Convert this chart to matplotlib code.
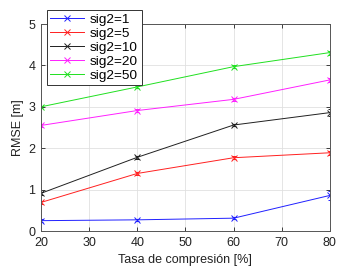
import matplotlib
matplotlib.use("Agg")
import matplotlib.pyplot as plt
from matplotlib.lines import Line2D

x = [20, 40, 60, 80]
series_names = ["sig2=1", "sig2=5", "sig2=10", "sig2=20", "sig2=50"]
sig1 = [0.25, 0.27, 0.31, 0.86]
sig5 = [0.69, 1.39, 1.77, 1.89]
sig10 = [0.91, 1.78, 2.56, 2.86]
sig20 = [2.55, 2.91, 3.18, 3.65]
sig50 = [3.00, 3.48, 3.97, 4.31]
err1 = [0.03, 0.03, 0.03, 0.1]
err5 = [0.03, 0.03, 0.03, 0.05]
err10 = [0.03, 0.03, 0.03, 0.08]
err20 = [0.03, 0.03, 0.03, 0.05]
err50 = [0.03, 0.03, 0.03, 0.05]
colors = ["#2020ff", "#ff2020", "#202020", "#ff20ff", "#20e020"]

plt.rcParams['font.family'] = ['Liberation Sans', 'DejaVu Sans']
fig = plt.figure(figsize=(3.59, 2.76), dpi=100)
ax = fig.add_axes([0.114, 0.163, 0.805, 0.750])

handles = []
for vals, errs, c, name in zip([sig1, sig5, sig10, sig20, sig50],
                               [err1, err5, err10, err20, err50],
                               colors, series_names):
    ax.errorbar(x, vals, yerr=errs, color=c, lw=0.7, marker='x', ms=4,
                mew=0.7, capsize=1.5, elinewidth=0.5)
    handles.append(Line2D([], [], color=c, lw=0.7, marker='x', ms=4,
                          mew=0.7, markevery=[1], label=name))

ax.set_xlim(20, 80)
ax.set_ylim(0, 5)
ax.set_xticks([20, 30, 40, 50, 60, 70, 80])
ax.set_yticks([0, 1, 2, 3, 4, 5])
ax.grid(True, color='#e0e0e0', lw=0.6)
ax.set_axisbelow(True)
for s in ax.spines.values():
    s.set_color('#555555')
    s.set_linewidth(0.7)
ax.tick_params(labelsize=9, colors='#222222', direction='in', length=3,
               width=0.6, top=True, right=True, pad=4)
ax.set_xlabel("Tasa de compresión [%]", fontsize=9, color='#222222', labelpad=4)
ax.set_ylabel("RMSE [m]", fontsize=9, color='#222222', labelpad=3)

leg = ax.legend(handles=handles, loc='upper left', bbox_to_anchor=(0.131, 0.964),
                bbox_transform=fig.transFigure, borderaxespad=0,
                fontsize=9.7, frameon=True, fancybox=False, framealpha=1,
                edgecolor='#333333', handlelength=2.5, labelspacing=0.12,
                borderpad=0.25, handletextpad=0.45)
leg.get_frame().set_linewidth(0.7)

fig.savefig("out.png", dpi=100)
